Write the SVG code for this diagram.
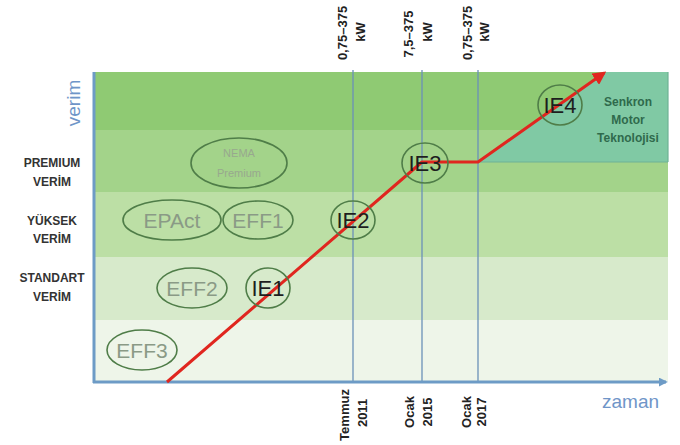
<svg xmlns="http://www.w3.org/2000/svg" width="680" height="445" viewBox="0 0 680 445">
<style>
.lbl{font-family:"Liberation Sans",Arial,sans-serif;font-weight:bold;font-size:12px;fill:#333;text-anchor:middle}
.rot{font-family:"Liberation Sans",Arial,sans-serif;font-weight:bold;font-size:13px;fill:#222;text-anchor:middle}
.ax{font-family:"Liberation Sans",Arial,sans-serif;font-size:19px;fill:#6f95c8}
.ell{fill:none;stroke:#4f7d48;stroke-width:1.6}
.old{font-family:"Liberation Sans",Arial,sans-serif;font-size:21px;fill:#8a9a86;text-anchor:middle}
.ie{font-family:"Liberation Sans",Arial,sans-serif;font-size:22px;fill:#1e1e1e;text-anchor:middle}
.sml{font-family:"Liberation Sans",Arial,sans-serif;font-size:11px;fill:#98a88e;text-anchor:middle}
.snk{font-family:"Liberation Sans",Arial,sans-serif;font-weight:bold;font-size:12px;fill:#2f6a4c;text-anchor:middle}
.vl{stroke:#6b90b8;stroke-width:1.3}
</style>
<defs>
<marker id="redArrow" viewBox="0 0 10 10" refX="8" refY="5" markerWidth="4.5" markerHeight="4.5" orient="auto" markerUnits="strokeWidth">
<path d="M0,0 L10,5 L0,10 z" fill="#e0261f"/>
</marker>
<marker id="axArrow" viewBox="0 0 10 10" refX="8" refY="5" markerWidth="3" markerHeight="3" orient="auto" markerUnits="strokeWidth">
<path d="M0,0 L10,5 L0,10 z" fill="#6d9bc6"/>
</marker>
</defs>

<g id="bands">
<rect x="94" y="72" width="574" height="58" fill="#8fca73"/>
<rect x="94" y="130" width="574" height="62" fill="#a3d38a"/>
<rect x="94" y="192" width="574" height="65" fill="#bcdfa5"/>
<rect x="94" y="257" width="574" height="63" fill="#d7eacb"/>
<rect x="94" y="320" width="574" height="62" fill="#eef5e9"/>
<polygon points="478,162 606,72 668,72 668,162" fill="#80c9a4"/>
<line x1="478" y1="162" x2="668" y2="162" stroke="#6fb295" stroke-width="1.2"/>
<line x1="668" y1="72" x2="668" y2="162" stroke="#6fb295" stroke-width="1.2"/>
</g>

<g id="gridlines">
<line class="vl" x1="353" y1="70" x2="353" y2="382"/>
<line class="vl" x1="422" y1="70" x2="422" y2="382"/>
<line class="vl" x1="478" y1="70" x2="478" y2="382"/>
</g>

<g id="axes">
<line x1="94" y1="383" x2="94" y2="72" stroke="#6d9bc6" stroke-width="3"/>
<line x1="93" y1="382" x2="666" y2="382" stroke="#6d9bc6" stroke-width="3" marker-end="url(#axArrow)"/>
<text class="ax" transform="translate(80,103) rotate(-90)" text-anchor="middle">verim</text>
<text class="ax" x="602" y="408">zaman</text>
</g>

<g id="left-labels">
<text class="lbl" x="52" y="167">PREMIUM</text>
<text class="lbl" x="52" y="186">VERİM</text>
<text class="lbl" x="52" y="225">YÜKSEK</text>
<text class="lbl" x="52" y="243">VERİM</text>
<text class="lbl" x="52" y="282">STANDART</text>
<text class="lbl" x="52" y="301">VERİM</text>
</g>

<g id="top-labels">
<text class="rot" transform="translate(347,33) rotate(-90)">0,75–375</text>
<text class="rot" transform="translate(365,32) rotate(-90)">kW</text>
<text class="rot" transform="translate(413,34) rotate(-90)">7,5–375</text>
<text class="rot" transform="translate(432,32) rotate(-90)">kW</text>
<text class="rot" transform="translate(472,33) rotate(-90)">0,75–375</text>
<text class="rot" transform="translate(489,32) rotate(-90)">kW</text>
</g>

<g id="bottom-labels">
<text class="rot" transform="translate(349,415) rotate(-90)">Temmuz</text>
<text class="rot" transform="translate(367,413) rotate(-90)">2011</text>
<text class="rot" transform="translate(414,412) rotate(-90)">Ocak</text>
<text class="rot" transform="translate(432,412) rotate(-90)">2015</text>
<text class="rot" transform="translate(471,412) rotate(-90)">Ocak</text>
<text class="rot" transform="translate(486,412) rotate(-90)">2017</text>
</g>

<g id="connectors">
<polyline points="167,382 422,162 478,162 604,73" fill="none" stroke="#e0261f" stroke-width="3" stroke-linejoin="round" marker-end="url(#redArrow)"/>
</g>

<g id="node-nema">
<ellipse class="ell" cx="239" cy="163" rx="48" ry="25"/>
<text class="sml" x="239" y="157">NEMA</text>
<text class="sml" x="239" y="177">Premium</text>
</g>
<g id="node-epact">
<ellipse class="ell" cx="172" cy="220" rx="49" ry="20"/>
<text class="old" x="172" y="228">EPAct</text>
</g>
<g id="node-eff1">
<ellipse class="ell" cx="258" cy="220" rx="35" ry="19"/>
<text class="old" x="258" y="228">EFF1</text>
</g>
<g id="node-eff2">
<ellipse class="ell" cx="192" cy="288" rx="35" ry="20"/>
<text class="old" x="192" y="296">EFF2</text>
</g>
<g id="node-eff3">
<ellipse class="ell" cx="142" cy="350" rx="35" ry="20"/>
<text class="old" x="142" y="358">EFF3</text>
</g>
<g id="node-ie1">
<ellipse class="ell" cx="268" cy="288" rx="22" ry="20"/>
<text class="ie" x="268" y="296">IE1</text>
</g>
<g id="node-ie2">
<ellipse class="ell" cx="353" cy="220" rx="22" ry="19"/>
<text class="ie" x="353" y="228">IE2</text>
</g>
<g id="node-ie3">
<ellipse class="ell" cx="425" cy="163" rx="23" ry="20"/>
<text class="ie" x="425" y="171">IE3</text>
</g>
<g id="node-ie4">
<ellipse class="ell" cx="560" cy="105" rx="22" ry="20"/>
<text class="ie" x="560" y="113">IE4</text>
</g>
<g id="node-senkron">
<text class="snk" x="628" y="106">Senkron</text>
<text class="snk" x="628" y="124">Motor</text>
<text class="snk" x="628" y="142">Teknolojisi</text>
</g>
</svg>
